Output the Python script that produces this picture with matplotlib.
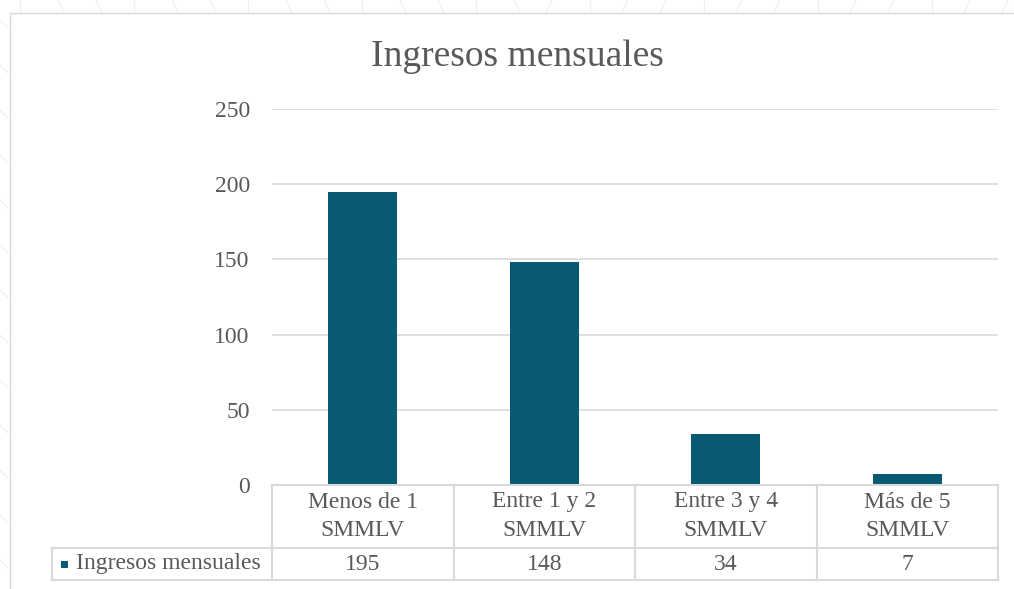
import matplotlib.pyplot as plt
from matplotlib.patches import Rectangle
from matplotlib.lines import Line2D

categories = ["Menos de 1\nSMMLV", "Entre 1 y 2\nSMMLV", "Entre 3 y 4\nSMMLV", "Más de 5\nSMMLV"]
values = [195, 148, 34, 7]
series_name = "Ingresos mensuales"
yticks = [0, 50, 100, 150, 200, 250]

W, H = 1014, 589
BAR = "#075a72"
TXT = "#595959"
GRID = "#d9d9d9"
FS = 17
FONT = "Liberation Serif"

plt.rcParams["font.family"] = "serif"
plt.rcParams["font.serif"] = [FONT, "DejaVu Serif"]

fig = plt.figure(figsize=(W / 100, H / 100), dpi=100)
fig.patch.set_facecolor("white")

# faint decorative stripes behind the chart frame
for i, x0 in enumerate(range(20, W, 38)):
    slant = 0 if i % 3 == 0 else (6 if i < 14 else -6)
    fig.add_artist(Line2D([x0 / W, (x0 + slant) / W], [1.0, 1 - 13 / H],
                          transform=fig.transFigure, color="#edf1f4", lw=1.0, zorder=-3))
for y0 in range(20, H, 45):
    fig.add_artist(Line2D([0, 8 / W], [1 - y0 / H, 1 - (y0 + 8) / H],
                          transform=fig.transFigure, color="#edf1f4", lw=1.0, zorder=-3))

# chart frame
fig.add_artist(Rectangle((10 / W, -0.01), 1.0, 1 - 13 / H + 0.01, transform=fig.transFigure,
                         facecolor="white", edgecolor="#d9d9d9", lw=1.0, zorder=-2))

ax = fig.add_axes([272 / W, 1 - 485 / H, 726 / W, 376 / H])
ax.set_zorder(1)
ax.set_facecolor("none")
x = list(range(len(categories)))
ax.bar(x, values, width=0.38, color=BAR, zorder=3)
ax.set_xlim(-0.5, len(categories) - 0.5)
ax.set_ylim(0, 250)
ax.set_yticks(yticks)
ax.set_yticklabels([str(t) for t in yticks], fontsize=FS, color=TXT, family=FONT)
ax.tick_params(axis="y", length=0, pad=16)
ax.set_xticks([])
ax.grid(axis="y", color=GRID, lw=1.2, zorder=0)
for s in ax.spines.values():
    s.set_visible(False)

fig.text(517 / W, 1 - 57 / H, series_name, ha="center", va="center", fontsize=27,
         color=TXT, family=FONT)

# data table below the plot
px = 1 / 376.0
r1 = -63 * px
r2 = -95 * px
left = -0.5 - 220 / 181.5
tr = ax.get_xaxis_transform()
kw = dict(transform=tr, color=GRID, lw=1.5, clip_on=False, zorder=4)
ax.add_line(Line2D([-0.5, 3.5], [0, 0], **kw))
ax.add_line(Line2D([left, 3.5], [r1, r1], **kw))
ax.add_line(Line2D([left, 3.5], [r2, r2], **kw))
ax.add_line(Line2D([left, left], [r1, r2], **kw))
for xv in [-0.5, 0.5, 1.5, 2.5, 3.5]:
    ax.add_line(Line2D([xv, xv], [0, r2], **kw))

for xi, cat, v in zip(x, categories, values):
    ax.text(xi, r1 / 2, cat, transform=tr, ha="center", va="center",
            fontsize=FS, color=TXT, linespacing=1.5, family=FONT)
    ax.text(xi, (r1 + r2) / 2, str(v), transform=tr, ha="center", va="center",
            fontsize=FS, color=TXT, family=FONT)

fig.add_artist(Rectangle((61 / W, 1 - 568 / H), 7 / W, 7 / H, transform=fig.transFigure,
                         facecolor=BAR, edgecolor="none", zorder=5))
fig.text(76 / W, 1 - 564 / H, series_name, ha="left", va="center", fontsize=FS,
         color=TXT, family=FONT)

fig.savefig("out.png", dpi=100, facecolor="white")
